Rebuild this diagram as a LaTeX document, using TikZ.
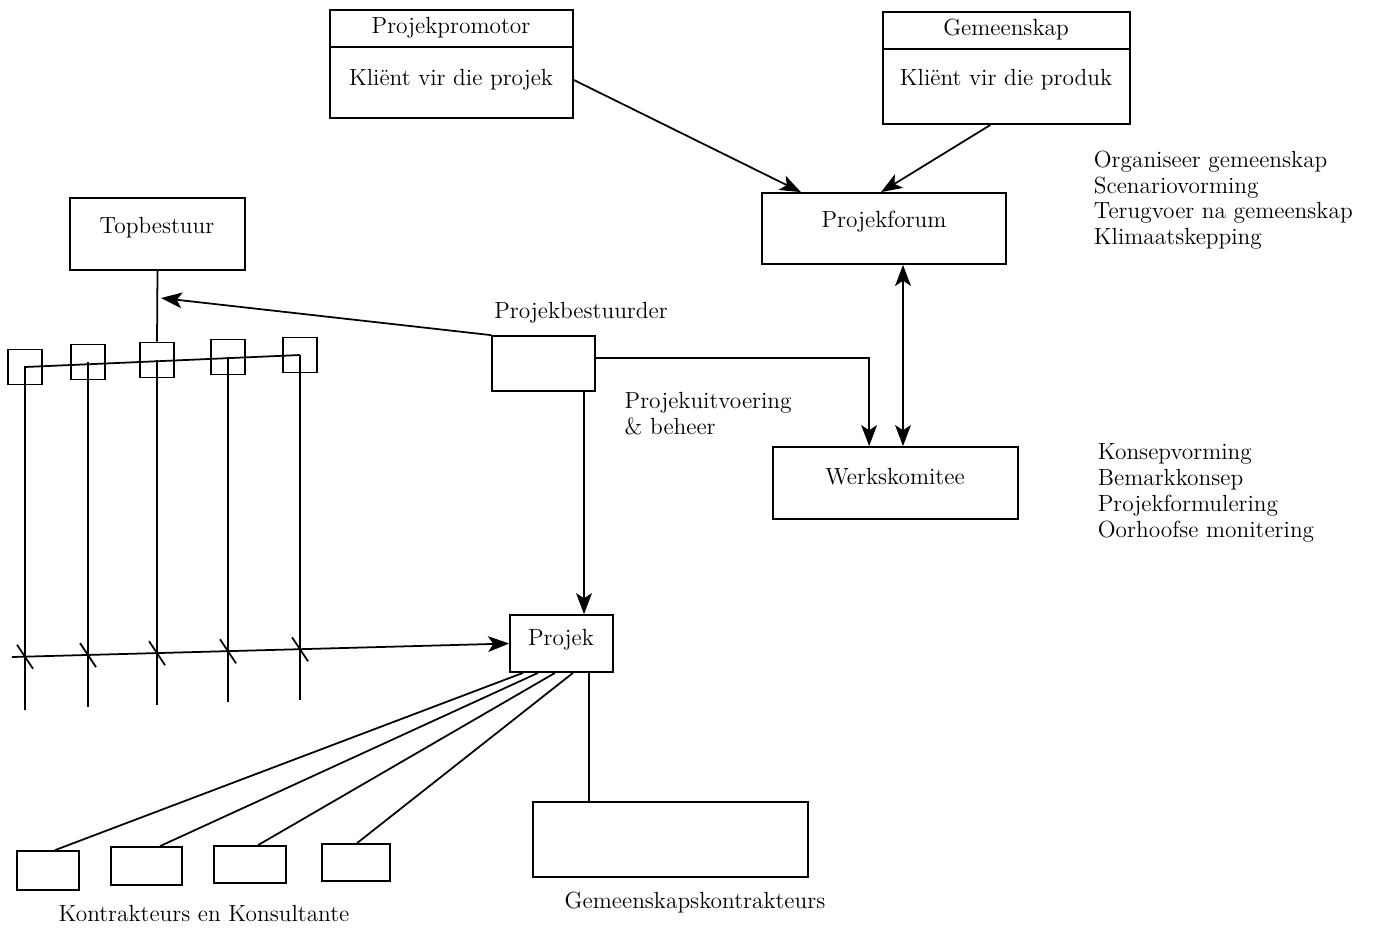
\documentclass[tikz,border=0pt]{standalone}
\usepackage{tikz}
\usetikzlibrary{arrows.meta,fit,calc,positioning}
\tikzset{
  box/.style={draw, inner sep=0pt},
  lst/.style={align=left, anchor=north west, inner sep=0pt}
}

\begin{document}
\begin{tikzpicture}[x=0.02cm, y=-0.02cm, line width=1pt, >={Stealth[length=12pt,width=9pt,inset=3pt]}, every node/.style={font=\fontsize{13.3}{14.7}\selectfont}]
    \useasboundingbox (0,0) rectangle (1378,934);

    % Draw the two client boxes
    \node[box, fit={(330,10) (573,118)}] (prom) {};
    \node (promt) at (451,28) {Projekpromotor};
    \node (promk) at (451,80) {Kli\"ent vir die projek};
    \draw (prom.west |- 0,47) -- (prom.east |- 0,47);

    \node[box, fit={(883,12) (1130,124)}] (gem) {};
    \node (gemt) at (1006,30) {Gemeenskap};
    \node (gemk) at (1006,80) {Kli\"ent vir die produk};
    \draw (gem.west |- 0,49) -- (gem.east |- 0,49);

    % Draw the forum and the committee
    \node[box, fit={(762,193) (1006,264)}] (forum) {};
    \node (forumt) at (884,222) {Projekforum};
    \node[box, fit={(773,447) (1018,519)}] (werk) {};
    \node (werkt) at (895,477) {Werkskomitee};

    \node[lst] (forumlst) at (1093,150) {Organiseer gemeenskap\\Scenariovorming\\Terugvoer na gemeenskap\\Klimaatskepping};
    \node[lst] (werklst) at (1097,443) {Konsepvorming\\Bemarkkonsep\\Projekformulering\\Oorhoofse monitering};

    % Draw the client arrows
    \draw[->] (prom.east |- promk) -- ($(forum.north)+(-83,0)$);
    \draw[->] ($(gem.south)+(-16,0)$) -- ($(forum.north)+(-3,0)$);

    % Draw the top management
    \node[box, fit={(70,198) (245,270)}] (top) {};
    \node (topt) at (157,228) {Topbestuur};

    %draw the line of departments
    \foreach \x/\y[count=\c] in {25/367, 88/362, 157/360, 228/357, 300/355}{
        \node[box, minimum width=0.68cm, minimum height=0.7cm] (b\c) at (\x,\y) {};
    }
    \draw (top.south) -- (b3.north);
    \draw (b5.center) -- (b1.center) -- ++(0,343);
    \foreach \c in {2,...,5}{
        \draw (b\c.center) -- ++(0,345);
    }

    % Draw the project manager
    \node[box, fit={(492,336) (595,391)}] (mgr) {};
    \node (mgrt) at (581,313) {Projekbestuurder};
    \node[align=left, anchor=west] (uitv) at (618,414) {Projekuitvoering\\\& beheer};
    \coordinate (th) at (161,298);
    \draw[->] (mgr.north west) -- (th);
    \draw[->] (mgr.east |- 0,358) -| ($(werk.north west)+(97,0)$);
    \draw[<->] (forum.south -| 903,0) -- (werk.north -| 903,0);

    % Draw the project
    \node[box, fit={(510,615) (613,672)}] (proj) {};
    \node (projt) at (561,640) {Projek};
    \draw[->] (mgr.south -| 584,0) -- (proj.north -| 584,0);

    % Draw the crossing line with its ticks
    \coordinate (t0) at (12,657);
    \draw[->] (t0) -- (proj.west);
    \foreach \c in {1,...,5}{
        \draw (intersection of t0--proj.west and b\c.north--b\c.south) +(-8,-12) -- +(8,12);
    }

    % Draw the contractors
    \foreach \xa/\ya/\xb/\yb/\xt/\xp[count=\c] in {17/851/79/890/55/523, 111/847/182/885/160/538, 214/846/286/883/258/555, 322/844/390/881/357/573}{
        \node[box, fit={(\xa,\ya) (\xb,\yb)}] (k\c) {};
        \draw (k\c.north -| \xt,0) -- (proj.south -| \xp,0);
    }
    \node (kt) at (204,913) {Kontrakteurs en Konsultante};

    \node[box, fit={(533,802) (808,877)}] (gk) {};
    \draw (proj.south -| 589,0) -- (gk.north -| 589,0);
    \node (gkt) at (695,903) {Gemeenskapskontrakteurs};
\end{tikzpicture}
\end{document}
